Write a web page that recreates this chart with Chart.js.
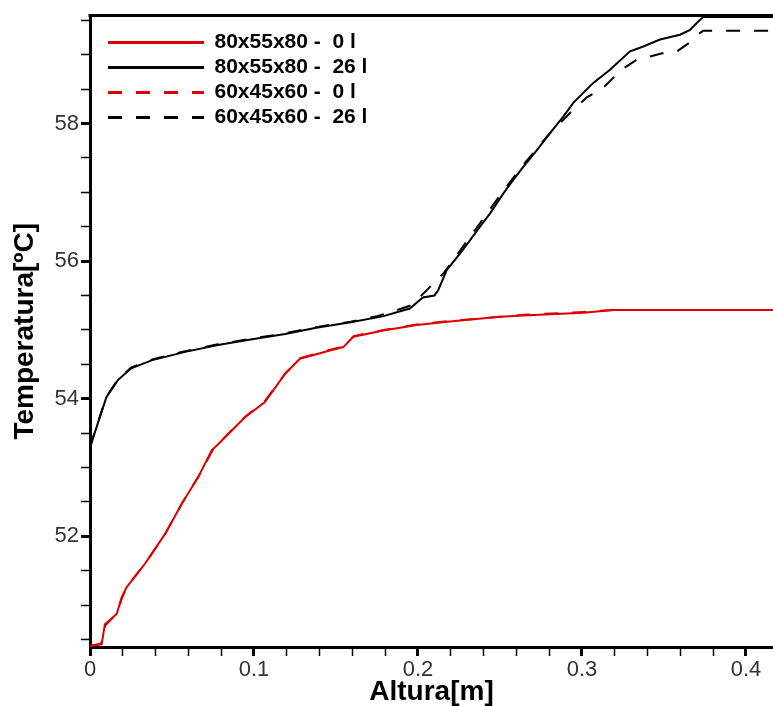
<!DOCTYPE html>
<html>
<head>
<meta charset="utf-8">
<script src="https://cdn.jsdelivr.net/npm/chart.js@4/dist/chart.umd.min.js"></script>
<style>
  body { margin: 0; background: #fff; }
  #wrap { width: 773px; height: 706px; }
</style>
</head>
<body>
<div id="wrap"><canvas id="chart"></canvas></div>
<script>
// series names
const labels = ["80x55x80 -  0 l", "80x55x80 -  26 l", "60x45x60 -  0 l", "60x45x60 -  26 l"];

// 80x55x80 - 0 l (red solid)
const redSolidX = [0, 0.0071, 0.0091, 0.0163, 0.0193, 0.0224, 0.0335, 0.0457, 0.0559, 0.066, 0.0742, 0.0783, 0.0945, 0.1067, 0.1189, 0.128, 0.1463, 0.1545, 0.1606, 0.1789, 0.1992, 0.2195, 0.25, 0.2642, 0.3008, 0.319, 0.417];
const redSolidY = [50.41, 50.43, 50.72, 50.87, 51.11, 51.26, 51.60, 52.03, 52.47, 52.86, 53.25, 53.34, 53.73, 53.95, 54.36, 54.58, 54.70, 54.75, 54.90, 54.99, 55.07, 55.12, 55.19, 55.21, 55.25, 55.29, 55.29];

// 80x55x80 - 26 l (black solid)
const blackSolidX = [0, 0.002, 0.006, 0.010, 0.017, 0.025, 0.038, 0.058, 0.078, 0.098, 0.119, 0.138, 0.159, 0.179, 0.195, 0.203, 0.210, 0.2124, 0.2175, 0.2256, 0.2317, 0.2378, 0.2439, 0.252, 0.2581, 0.2642, 0.2724, 0.2805, 0.2886, 0.2947, 0.3069, 0.3171, 0.3293, 0.3374, 0.3476, 0.3598, 0.3659, 0.370, 0.374, 0.417];
const blackSolidY = [53.28, 53.44, 53.73, 54.02, 54.27, 54.44, 54.56, 54.68, 54.78, 54.86, 54.94, 55.03, 55.11, 55.20, 55.31, 55.47, 55.50, 55.58, 55.87, 56.11, 56.30, 56.50, 56.69, 56.98, 57.18, 57.37, 57.61, 57.86, 58.10, 58.30, 58.59, 58.78, 59.05, 59.12, 59.22, 59.29, 59.36, 59.46, 59.55, 59.55];

// 60x45x60 - 0 l (red dashed)
const redDashX = [0, 0.0068, 0.0093, 0.0165, 0.0195, 0.0226, 0.0338, 0.0455, 0.0561, 0.0662, 0.0745, 0.0785, 0.0948, 0.1065, 0.1192, 0.1283, 0.1465, 0.1548, 0.1608, 0.1792, 0.1995, 0.2198, 0.2505, 0.2645, 0.301, 0.3195, 0.417];
const redDashY = [50.40, 50.44, 50.70, 50.88, 51.10, 51.27, 51.61, 52.02, 52.48, 52.87, 53.24, 53.35, 53.74, 53.96, 54.37, 54.59, 54.71, 54.76, 54.91, 55.00, 55.08, 55.13, 55.19, 55.22, 55.26, 55.29, 55.29];

// 60x45x60 - 26 l (black dashed)
const blackDashX = [0, 0.002, 0.006, 0.010, 0.017, 0.025, 0.038, 0.058, 0.078, 0.098, 0.119, 0.138, 0.159, 0.175, 0.185, 0.195, 0.203, 0.2155, 0.2256, 0.2378, 0.252, 0.2642, 0.2805, 0.2947, 0.303, 0.313, 0.324, 0.333, 0.341, 0.349, 0.358, 0.367, 0.371, 0.374, 0.417];
const blackDashY = [53.30, 53.45, 53.74, 54.03, 54.28, 54.45, 54.57, 54.69, 54.79, 54.87, 54.95, 55.04, 55.12, 55.20, 55.27, 55.35, 55.52, 55.82, 56.15, 56.55, 57.02, 57.40, 57.86, 58.20, 58.38, 58.52, 58.78, 58.92, 58.97, 59.02, 59.05, 59.20, 59.30, 59.35, 59.35];

// axis ranges and ticks
const xMin = 0, xMax = 0.4165, xStep = 0.02;
const yMin = 50.39, yMax = 59.57, yStep = 0.5;

function toPoints(xs, ys) {
    return xs.map((x, i) => ({ x: x, y: ys[i] }));
}

function isMajorX(v) {
    return Math.abs(v * 10 - Math.round(v * 10)) < 1e-6;
}

function isMajorY(v) {
    return Math.abs(v / 2 - Math.round(v / 2)) < 1e-6;
}

const tickFont = { family: "Liberation Sans", size: 22 };
const titleFont = { family: "Liberation Sans", size: 28, weight: "bold", lineHeight: 1 };

// top frame line + legend offset inside plot
const frameTop = {
    id: "frameTop",
    afterLayout(chart) {
        chart.legend.left += 14;
        chart.legend.top += 28;
    },
    afterDraw(chart) {
        const a = chart.chartArea;
        const ctx = chart.ctx;
        ctx.save();
        ctx.strokeStyle = "#000";
        ctx.lineWidth = 3;
        ctx.beginPath();
        ctx.moveTo(a.left - 1.5, a.top);
        ctx.lineTo(a.right, a.top);
        ctx.stroke();
        ctx.restore();
    }
};

const ctx = document.getElementById("chart").getContext("2d");
new Chart(ctx, {
    type: "line",
    data: {
        datasets: [
            { label: labels[0], data: toPoints(redSolidX, redSolidY), borderColor: "#dd0000", backgroundColor: "#dd0000", borderWidth: 2 },
            { label: labels[1], data: toPoints(blackSolidX, blackSolidY), borderColor: "#000", backgroundColor: "#000", borderWidth: 2 },
            { label: labels[2], data: toPoints(redDashX, redDashY), borderColor: "#dd0000", backgroundColor: "#dd0000", borderWidth: 2, borderDash: [14, 14] },
            { label: labels[3], data: toPoints(blackDashX, blackDashY), borderColor: "#000", backgroundColor: "#000", borderWidth: 2, borderDash: [14, 14] }
        ]
    },
    options: {
        responsive: true,
        maintainAspectRatio: false,
        animation: false,
        layout: { padding: { top: 15.5, right: 0, left: 0, bottom: 0 } },
        elements: { point: { radius: 0 }, line: { tension: 0 } },
        plugins: {
            tooltip: { enabled: false },
            legend: {
                position: "chartArea",
                align: "start",
                labels: {
                    usePointStyle: true,
                    pointStyle: "line",
                    pointStyleWidth: 96,
                    padding: 4,
                    color: "#000",
                    font: { family: "Liberation Sans", size: 21, weight: "bold" },
                    generateLabels: chart => chart.data.datasets.map((ds, i) => ({
                        text: ds.label,
                        fillStyle: ds.borderColor,
                        strokeStyle: ds.borderColor,
                        lineWidth: 3,
                        lineDash: ds.borderDash || [],
                        pointStyle: "line",
                        fontColor: "#000",
                        hidden: false,
                        datasetIndex: i
                    }))
                }
            }
        },
        scales: {
            x: {
                type: "linear",
                min: xMin,
                max: xMax,
                afterFit(scale) { scale.height = 59; },
                border: { display: true, color: "#000", width: 3 },
                grid: {
                    drawOnChartArea: false,
                    drawTicks: true,
                    tickLength: 9,
                    color: "#000",
                    tickColor: "#000",
                    tickWidth: c => isMajorX(c.tick.value) ? 3 : 1.5
                },
                ticks: {
                    stepSize: xStep,
                    includeBounds: false,
                    autoSkip: false,
                    maxRotation: 0,
                    padding: 1,
                    color: "#333",
                    font: tickFont,
                    callback: v => isMajorX(v) ? (Math.abs(v) < 1e-9 ? "0" : v.toFixed(1)) : ""
                },
                title: {
                    display: true,
                    text: "Altura[m]",
                    color: "#000",
                    font: titleFont,
                    padding: { top: 0, bottom: 0 }
                }
            },
            y: {
                type: "linear",
                min: yMin,
                max: yMax,
                afterFit(scale) { scale.width = 90; },
                border: { display: true, color: "#000", width: 3 },
                grid: {
                    drawOnChartArea: false,
                    drawTicks: true,
                    tickLength: 9,
                    color: "#000",
                    tickColor: "#000",
                    tickWidth: c => isMajorY(c.tick.value) ? 3 : 1.5
                },
                ticks: {
                    stepSize: yStep,
                    includeBounds: false,
                    autoSkip: false,
                    padding: 2,
                    color: "#333",
                    font: tickFont,
                    callback: v => isMajorY(v) ? String(Math.round(v)) : ""
                },
                title: {
                    display: true,
                    text: "Temperatura[ºC]",
                    color: "#000",
                    font: titleFont,
                    padding: { top: 11, bottom: 0 }
                }
            }
        }
    },
    plugins: [frameTop]
});
</script>
</body>
</html>
